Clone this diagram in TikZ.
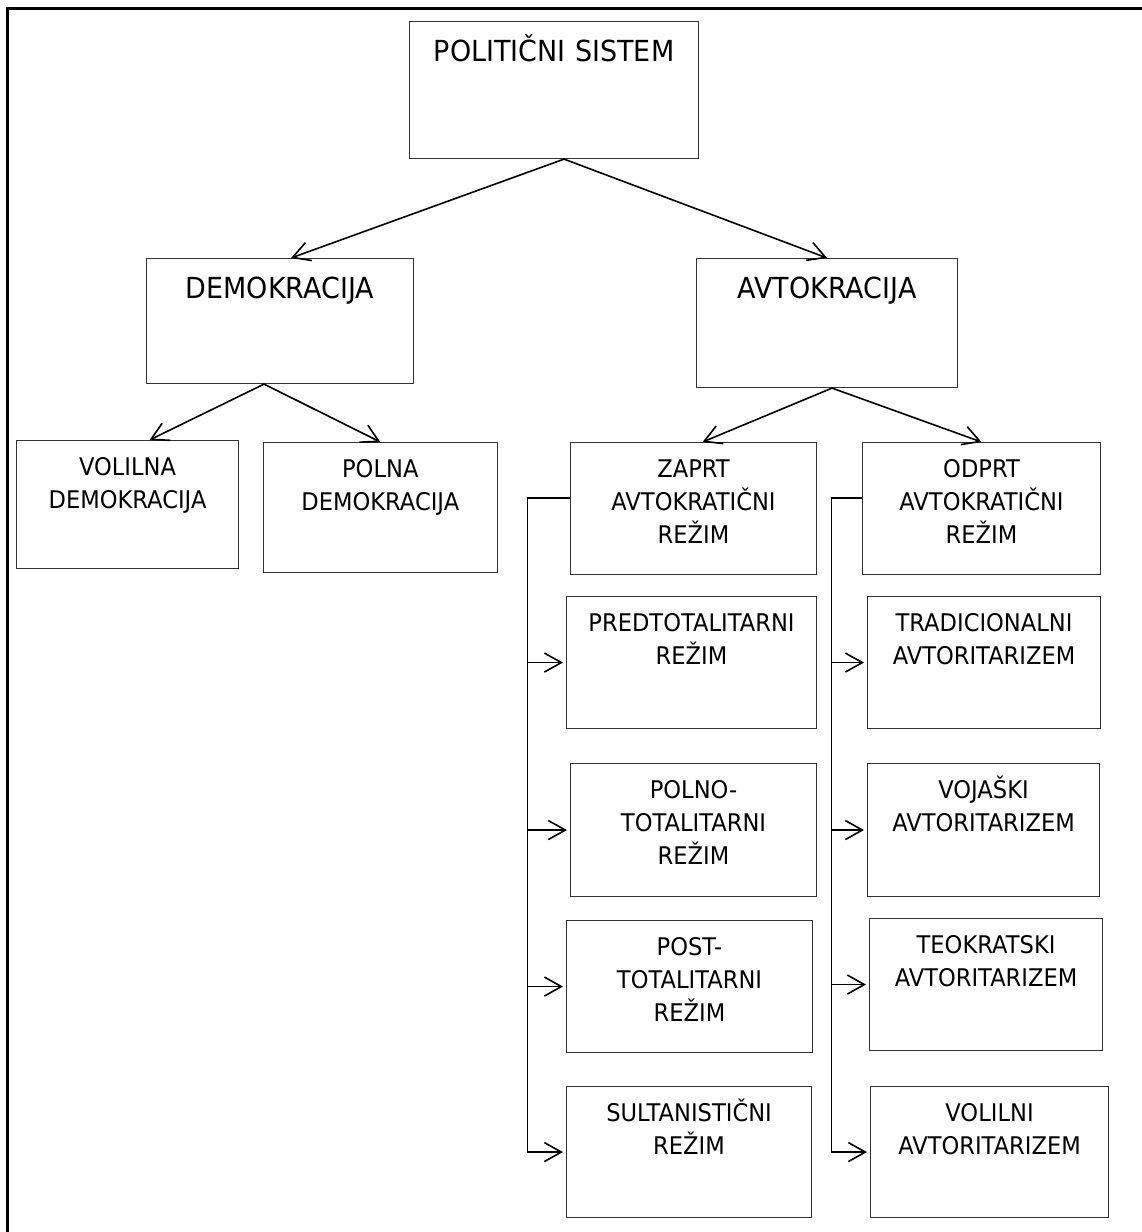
\documentclass[tikz,border=0pt]{standalone}
\usepackage{fontspec}
\setmainfont[FakeStretch=0.93]{DejaVu Sans}
\usetikzlibrary{calc,positioning,arrows.meta}

\tikzset{
  box/.style={draw=black!80, line width=1.1pt, inner sep=0pt, align=center,
    anchor=north west, text height=35pt, font=\fontsize{24.3}{33}\selectfont},
  bigbox/.style={box, text height=39.5pt, font=\fontsize{29}{36}\selectfont},
  arr/.style={-{Straight Barb[length=17pt,width=19pt]}, line width=1.6pt},
}

\begin{document}
\begin{tikzpicture}[x=1pt, y=-1pt]

    \useasboundingbox (0,0) rectangle (1142,1232);
    \clip (0,0) rectangle (1142,1232);
    \draw[line width=3pt] (7.5,8.8) rectangle (1170,1260);

    % vertices

    \node[bigbox, text width=289pt, text depth=97.5pt] (pol) at (409,21) {POLITIČNI SISTEM};

    \node[bigbox, text width=267pt, text depth=85.5pt] (dem) at (146,258) {DEMOKRACIJA};
    \node[bigbox, text width=261pt, text depth=89.5pt] (avt) at (696,258) {AVTOKRACIJA};

    \node[box, text width=222pt, text depth=93pt] (voldem) at (16,440) {VOLILNA\\DEMOKRACIJA};
    \node[box, text width=233.5pt, text depth=95pt] (poldem) at (263,442) {POLNA\\DEMOKRACIJA};
    \node[box, text width=246pt, text depth=97pt] (zaprt) at (570,442) {ZAPRT\\AVTOKRATIČNI\\REŽIM};
    \node[box, text width=238pt, text depth=97pt] (odprt) at (862,442) {ODPRT\\AVTOKRATIČNI\\REŽIM};

    \node[box, text width=250pt, text depth=97pt] (pred) at (566,596) {PREDTOTALITARNI\\REŽIM};
    \node[box, text width=246pt, text depth=98pt] (polno) at (570,763) {POLNO-\\TOTALITARNI\\REŽIM};
    \node[box, text width=246pt, text depth=97pt] (post) at (566,920) {POST-\\TOTALITARNI\\REŽIM};
    \node[box, text width=245pt, text depth=96pt] (sult) at (566,1086) {SULTANISTIČNI\\REŽIM};

    \node[box, text width=233pt, text depth=97pt] (trad) at (867,596) {TRADICIONALNI\\AVTORITARIZEM};
    \node[box, text width=232pt, text depth=98pt] (voj) at (867,763) {VOJAŠKI\\AVTORITARIZEM};
    \node[box, text width=233pt, text depth=97pt] (teokr) at (869,918) {TEOKRATSKI\\AVTORITARIZEM};
    \node[box, text width=238pt, text depth=96pt] (volavt) at (870,1086) {VOLILNI\\AVTORITARIZEM};

    \coordinate (zbus) at (527.5,498);
    \coordinate (obus) at (831.5,498);

    % edges

    \draw[arr] ([xshift=10pt]pol.south) to ([xshift=11pt]dem.north);
    \draw[arr] ([xshift=10pt]pol.south) to (avt.north);

    \draw[arr] ([xshift=-16pt]dem.south) to ([xshift=22pt]voldem.north);
    \draw[arr] ([xshift=-16pt]dem.south) to (poldem.north);

    \draw[arr] ([xshift=5pt]avt.south) to ([xshift=9pt]zaprt.north);
    \draw[arr] ([xshift=5pt]avt.south) to (odprt.north);

    \draw[arr, shorten >=3pt] (zaprt.west |- zbus) -- (zbus) |- (sult.west);
    \foreach \n in {pred,polno,post}
      \draw[arr, shorten >=3pt] (zbus |- \n.west) to (\n.west);

    \draw[arr, shorten >=3pt] (odprt.west |- obus) -- (obus) |- (volavt.west);
    \foreach \n in {trad,voj,teokr}
      \draw[arr, shorten >=3pt] (obus |- \n.west) to (\n.west);
  \end{tikzpicture}
\end{document}
